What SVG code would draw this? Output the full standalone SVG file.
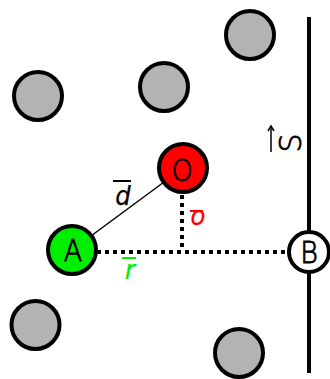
<svg xmlns="http://www.w3.org/2000/svg" width="330" height="379" viewBox="0 0 330 379">
<style>
.g{fill:#b3b3b3;stroke:#000;stroke-width:4}
.n{stroke:#000;stroke-width:4}
.lbl{font-family:"DejaVu Sans",sans-serif;font-size:30px;font-weight:200;font-stretch:condensed;text-anchor:middle;fill:#000;stroke:#000;stroke-width:0.9}
.it{font-family:"DejaVu Sans",sans-serif;font-size:27px;font-weight:200;font-stretch:condensed;font-style:italic;text-anchor:middle;stroke-width:0.25}
.dot{stroke:#000;stroke-width:4;stroke-dasharray:4 4;fill:none}
</style>
<rect width="330" height="379" fill="#fff"/>
<g id="connectors">
<line x1="72" y1="250" x2="183" y2="168" stroke="#000" stroke-width="1.5"/>
<line class="dot" x1="97" y1="252" x2="288" y2="252"/>
<line class="dot" x1="182" y1="195" x2="182" y2="250"/>
<line x1="309" y1="17" x2="309" y2="373" stroke="#000" stroke-width="4"/>
</g>
<g id="g1"><circle class="g" cx="250" cy="35" r="24"/></g>
<g id="g2"><circle class="g" cx="164" cy="87" r="24"/></g>
<g id="g3"><circle class="g" cx="38" cy="96" r="24"/></g>
<g id="g4"><circle class="g" cx="35.5" cy="325" r="24"/></g>
<g id="g5"><circle class="g" cx="239" cy="353" r="24"/></g>
<g id="O"><circle class="n" cx="183" cy="168" r="24" fill="#ff0000"/><text class="lbl" transform="translate(182,181) scale(0.9,1)">O</text></g>
<g id="A"><circle class="n" cx="72" cy="250" r="24" fill="#00ee00"/><text class="lbl" transform="translate(73,261) scale(0.9,1)">A</text></g>
<g id="B"><circle class="n" cx="309" cy="252" r="20" fill="#fff"/><text class="lbl" transform="translate(309,263) scale(0.9,1)">B</text></g>
<g id="labels">
<text class="it" x="123" y="205" fill="#000" stroke="#000">d</text>
<line x1="113" y1="181" x2="131" y2="181" stroke="#000" stroke-width="2"/>
<text class="it" x="198" y="225" fill="#ff0000" stroke="#ff0000">o</text>
<line x1="190" y1="211" x2="203" y2="211" stroke="#ff0000" stroke-width="2"/>
<text class="it" x="130" y="279" fill="#00ee00" stroke="#00ee00">r</text>
<line x1="122" y1="258" x2="136" y2="258" stroke="#00ee00" stroke-width="2"/>
<text font-family="DejaVu Sans,sans-serif" font-size="30" font-weight="200" font-stretch="condensed" text-anchor="middle" stroke="#000" stroke-width="0.9" transform="translate(301,143) rotate(-90)">S</text>
<line x1="271" y1="152" x2="271" y2="127" stroke="#000" stroke-width="1.5"/>
<path d="M268,131 L271,126 L274,131" fill="none" stroke="#000" stroke-width="1.5"/>
</g>
</svg>
